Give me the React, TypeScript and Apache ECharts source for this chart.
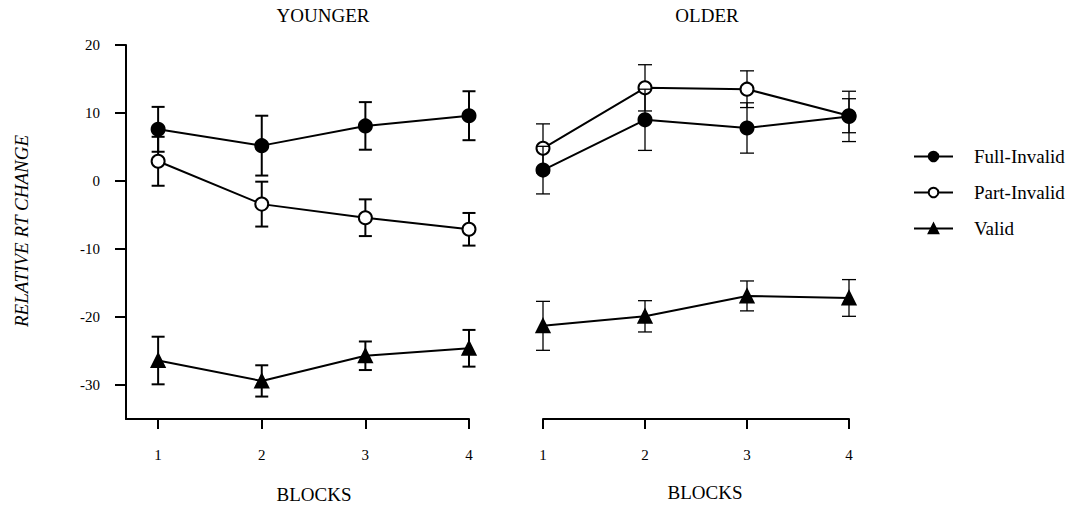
import React, { useEffect, useRef } from "react";
import * as echarts from "echarts";

const blocks = [1, 2, 3, 4];
const yTicks = [-30, -20, -10, 0, 10, 20];

const youngerFull = [7.6, 5.2, 8.1, 9.6];
const youngerFullErr = [3.3, 4.4, 3.5, 3.6];
const youngerPart = [2.9, -3.4, -5.4, -7.1];
const youngerPartErr = [3.6, 3.3, 2.7, 2.4];
const youngerValid = [-26.4, -29.4, -25.7, -24.6];
const youngerValidErr = [3.5, 2.3, 2.1, 2.7];

const olderFull = [1.6, 9.0, 7.8, 9.5];
const olderFullErr = [3.5, 4.5, 3.7, 3.7];
const olderPart = [4.8, 13.7, 13.5, 9.6];
const olderPartErr = [3.6, 3.4, 2.7, 2.5];
const olderValid = [-21.3, -19.9, -16.9, -17.2];
const olderValidErr = [3.6, 2.3, 2.2, 2.7];

const SERIF = "'Liberation Serif', 'Times New Roman', serif";

function pts(vals: number[]) {
  return blocks.map((b, i) => [b, vals[i]]);
}
function errs(vals: number[], e: number[]) {
  return blocks.map((b, i) => [b, vals[i] - e[i], vals[i] + e[i]]);
}

function errSeries(name: string, idx: number, vals: number[], e: number[], lw: number, cap: number, z: number) {
  return {
    type: "custom",
    name,
    xAxisIndex: idx,
    yAxisIndex: idx,
    z,
    silent: true,
    data: errs(vals, e),
    encode: { x: 0, y: [1, 2] },
    renderItem: (params: any, api: any) => {
      const x = api.value(0);
      const lo = api.coord([x, api.value(1)]);
      const hi = api.coord([x, api.value(2)]);
      const hw = cap / 2;
      const style = { stroke: "#000", lineWidth: lw, fill: null };
      return {
        type: "group",
        children: [
          { type: "line", shape: { x1: lo[0], y1: lo[1], x2: hi[0], y2: hi[1] }, style },
          { type: "line", shape: { x1: lo[0] - hw, y1: lo[1], x2: lo[0] + hw, y2: lo[1] }, style },
          { type: "line", shape: { x1: hi[0] - hw, y1: hi[1], x2: hi[0] + hw, y2: hi[1] }, style },
        ],
      };
    },
  };
}

function lineSeries(name: string, idx: number, vals: number[], symbol: string, fill: string, size: number, z: number) {
  return {
    type: "line",
    name,
    xAxisIndex: idx,
    yAxisIndex: idx,
    z,
    data: pts(vals),
    symbol,
    symbolSize: size,
    showAllSymbol: true,
    lineStyle: { color: "#000", width: 2 },
    itemStyle: { color: fill, borderColor: "#000", borderWidth: 2 },
    emphasis: { disabled: true },
  };
}

export default function App() {
  const ref = useRef<HTMLDivElement>(null);
  useEffect(() => {
    if (!ref.current) return;
    const chart = echarts.init(ref.current, null, { renderer: "svg" });
    const axisLine = { show: true, onZero: false, lineStyle: { color: "#000", width: 2 } };
    const option: any = {
      animation: false,
      backgroundColor: "#fff",
      textStyle: { fontFamily: SERIF, color: "#000" },
      grid: [
        { left: 126, top: 45, width: 343, height: 374 },
        { left: 543, top: 45, width: 306, height: 374 },
      ],
      xAxis: [
        {
          type: "value",
          gridIndex: 0,
          min: 0.69,
          max: 4,
          splitLine: { show: false },
          axisLine,
          axisTick: { show: true, length: 10, lineStyle: { color: "#000", width: 2 }, customValues: blocks },
          axisLabel: { customValues: blocks, margin: 28, fontSize: 15, fontFamily: SERIF, color: "#000" },
        },
        {
          type: "value",
          gridIndex: 1,
          min: 1,
          max: 4,
          splitLine: { show: false },
          axisLine,
          axisTick: { show: true, length: 10, lineStyle: { color: "#000", width: 2 }, customValues: blocks },
          axisLabel: { customValues: blocks, margin: 28, fontSize: 15, fontFamily: SERIF, color: "#000" },
        },
      ],
      yAxis: [
        {
          type: "value",
          gridIndex: 0,
          min: -35,
          max: 20,
          splitLine: { show: false },
          axisLine,
          axisTick: { show: true, length: 11, lineStyle: { color: "#000", width: 2 }, customValues: yTicks },
          axisLabel: { customValues: yTicks, margin: 26, fontSize: 15, fontFamily: SERIF, color: "#000" },
        },
        {
          type: "value",
          gridIndex: 1,
          min: -35,
          max: 20,
          show: false,
          splitLine: { show: false },
        },
      ],
      legend: {
        orient: "vertical",
        left: 913,
        top: 147,
        itemWidth: 39,
        itemHeight: 12,
        itemGap: 17,
        padding: 0,
        data: ["Full-Invalid", "Part-Invalid", "Valid"],
        textStyle: { fontFamily: SERIF, fontSize: 19, color: "#000", padding: [0, 0, 0, 16] },
        selectedMode: false,
      },
      graphic: [
        { type: "text", x: 323, y: 15, style: { text: "YOUNGER", font: `19px ${SERIF}`, fill: "#000", textAlign: "center", textVerticalAlign: "middle" } },
        { type: "text", x: 707, y: 15, style: { text: "OLDER", font: `19px ${SERIF}`, fill: "#000", textAlign: "center", textVerticalAlign: "middle" } },
        { type: "text", x: 314, y: 494, style: { text: "BLOCKS", font: `19px ${SERIF}`, fill: "#000", textAlign: "center", textVerticalAlign: "middle" } },
        { type: "text", x: 705, y: 492, style: { text: "BLOCKS", font: `19px ${SERIF}`, fill: "#000", textAlign: "center", textVerticalAlign: "middle" } },
        { type: "text", x: 21, y: 231, rotation: Math.PI / 2, style: { text: "RELATIVE RT CHANGE", font: `italic 19px ${SERIF}`, fill: "#000", textAlign: "center", textVerticalAlign: "middle" } },
      ],
      series: [
        errSeries("yp-err", 0, youngerPart, youngerPartErr, 2, 13, 2),
        lineSeries("Part-Invalid", 0, youngerPart, "circle", "#fff", 13, 3),
        errSeries("yf-err", 0, youngerFull, youngerFullErr, 2, 13, 4),
        lineSeries("Full-Invalid", 0, youngerFull, "circle", "#000", 13, 5),
        errSeries("yv-err", 0, youngerValid, youngerValidErr, 2, 13, 6),
        lineSeries("Valid", 0, youngerValid, "triangle", "#000", 13, 7),
        errSeries("op-err", 1, olderPart, olderPartErr, 1.3, 14, 2),
        lineSeries("Part-Invalid", 1, olderPart, "circle", "#fff", 13, 3),
        errSeries("of-err", 1, olderFull, olderFullErr, 1.3, 14, 4),
        lineSeries("Full-Invalid", 1, olderFull, "circle", "#000", 13, 5),
        errSeries("ov-err", 1, olderValid, olderValidErr, 1.3, 14, 6),
        lineSeries("Valid", 1, olderValid, "triangle", "#000", 13, 7),
      ],
    };
    chart.setOption(option);
    return () => chart.dispose();
  }, []);
  return (
    <div
      ref={ref}
      style={{ position: "fixed", left: 0, top: 0, width: 1074, height: 505, background: "#fff" }}
    />
  );
}
